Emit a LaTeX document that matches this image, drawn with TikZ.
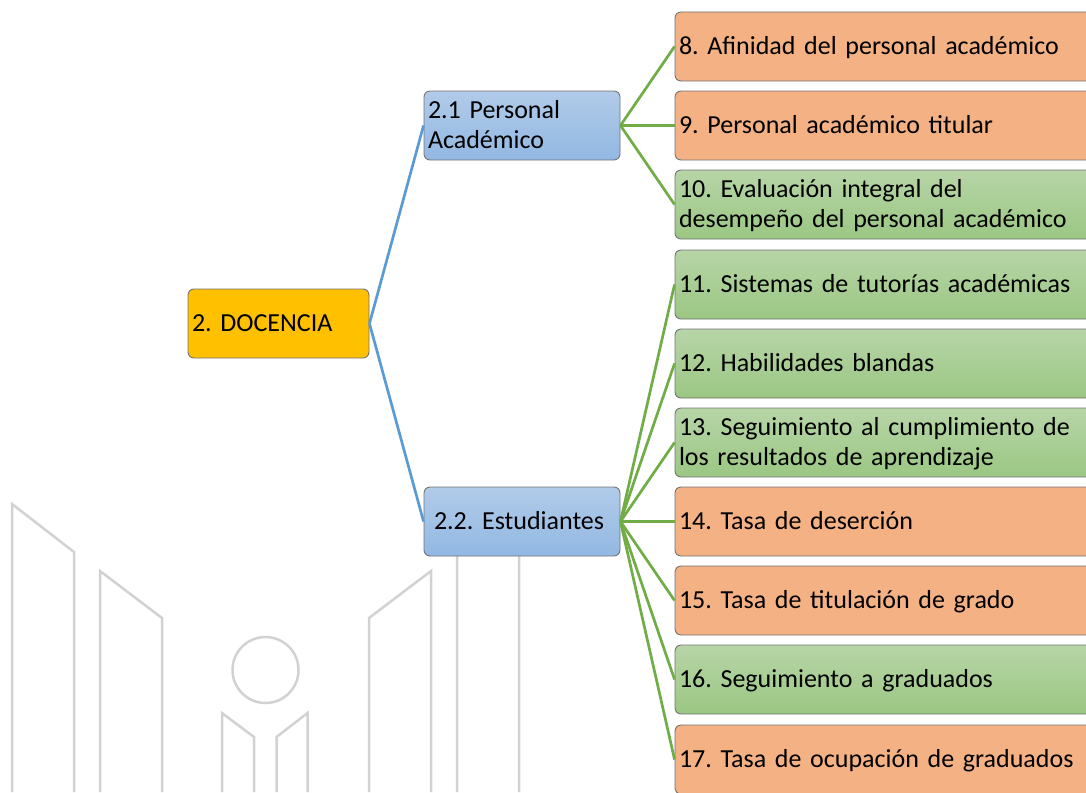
\documentclass[tikz,border=0pt]{standalone}
\usepackage{fontspec}
\setmainfont{Carlito}
\newcommand{\boxstrut}{\rule[-7pt]{0pt}{29.5pt}}
\begin{document}
\begin{tikzpicture}{
    \def\dx{1pt}
    \def\dy{-1pt}
    \newcounter{i-b}
    \useasboundingbox (0*\dx,0*\dy) rectangle (1086*\dx,792*\dy);
    \definecolor{rootyellow}{HTML}{FFC000}
    \definecolor{bluetop}{HTML}{B1CBE9}
    \definecolor{bluebottom}{HTML}{92B8E2}
    \definecolor{leaforange}{HTML}{F4B183}
    \definecolor{greentop}{HTML}{B7D5A7}
    \definecolor{greenbottom}{HTML}{9BC783}
    \definecolor{markgray}{HTML}{D2D2D2}
    \definecolor{lineblue}{HTML}{5B9BD5}
    \definecolor{linegreen}{HTML}{70AD47}
    \tikzstyle{boxbase}=[draw=black!55, line width=0.9pt, rounded corners=6pt, minimum height=69pt, inner xsep=4pt, inner ysep=0pt, font=\fontsize{26}{29.5}\selectfont\frenchspacing, text=black, execute at begin node=\boxstrut, execute at end node=\boxstrut]
    \tikzstyle{rootbox}=[boxbase, fill=rootyellow, minimum width=181pt, text width=173pt, align=left]
    \tikzstyle{branchbox}=[boxbase, top color=bluetop, bottom color=bluebottom, minimum width=196pt, text width=188pt, align=left]
    \tikzstyle{leafbox}=[boxbase, minimum width=420pt, text width=412pt, align=left]
    \tikzstyle{orangebox}=[leafbox, fill=leaforange]
    \tikzstyle{greenbox}=[leafbox, top color=greentop, bottom color=greenbottom]

    % watermark
    \tikzstyle{markline}=[draw=markgray, line width=2.5pt]
    \draw [markline] (12*\dx,792*\dy) -- (12*\dx,504*\dy) -- (74*\dx,552*\dy) -- (74*\dx,792*\dy);
    \draw [markline] (100*\dx,792*\dy) -- (100*\dx,571*\dy) -- (162*\dx,618*\dy) -- (162*\dx,792*\dy);
    \draw [markline] (222*\dx,792*\dy) -- (222*\dx,713*\dy) -- (254*\dx,737*\dy) -- (254*\dx,792*\dy);
    \draw [markline] (276.5*\dx,792*\dy) -- (276.5*\dx,737*\dy) -- (307.5*\dx,713*\dy) -- (307.5*\dx,792*\dy);
    \draw [markline] (369*\dx,792*\dy) -- (369*\dx,618*\dy) -- (431*\dx,571*\dy) -- (431*\dx,792*\dy);
    \draw [markline] (457*\dx,792*\dy) -- (457*\dx,552*\dy) -- (519*\dx,504*\dy) -- (519*\dx,792*\dy);
    \draw [markline] (265.5*\dx,670*\dy) circle (33pt);

    \stepcounter{i-b}\node[rootbox]  (\arabic{i-b}) at (278.5*\dx,323.5*\dy) {2. DOCENCIA};
    \stepcounter{i-b}\node[branchbox]  (\arabic{i-b}) at (522*\dx,125.5*\dy) {2.1 Personal\\Académico};
    \stepcounter{i-b}\node[branchbox]  (\arabic{i-b}) at (522*\dx,521.5*\dy) {\hspace*{6pt}2.2. Estudiantes};
    \stepcounter{i-b}\node[orangebox]  (\arabic{i-b}) at (885*\dx,46.5*\dy) {8. Afinidad del personal académico};
    \stepcounter{i-b}\node[orangebox]  (\arabic{i-b}) at (885*\dx,125.5*\dy) {9. Personal académico titular};
    \stepcounter{i-b}\node[greenbox]  (\arabic{i-b}) at (885*\dx,204.5*\dy) {10. Evaluación integral del\\desempeño del personal académico};
    \stepcounter{i-b}\node[greenbox]  (\arabic{i-b}) at (885*\dx,284.5*\dy) {11. Sistemas de tutorías académicas};
    \stepcounter{i-b}\node[greenbox]  (\arabic{i-b}) at (885*\dx,363.5*\dy) {12. Habilidades blandas};
    \stepcounter{i-b}\node[greenbox]  (\arabic{i-b}) at (885*\dx,442.5*\dy) {13. Seguimiento al cumplimiento de\\los resultados de aprendizaje};
    \stepcounter{i-b}\node[orangebox]  (\arabic{i-b}) at (885*\dx,521.5*\dy) {14. Tasa de deserción};
    \stepcounter{i-b}\node[orangebox]  (\arabic{i-b}) at (885*\dx,600.5*\dy) {15. Tasa de titulación de grado};
    \stepcounter{i-b}\node[greenbox]  (\arabic{i-b}) at (885*\dx,679.5*\dy) {16. Seguimiento a graduados};
    \stepcounter{i-b}\node[orangebox]  (\arabic{i-b}) at (885*\dx,759.5*\dy) {17. Tasa de ocupación de graduados};

    \tikzstyle{trunk} = [draw=lineblue, line width=2.7pt]
    \tikzstyle{twig} = [draw=linegreen, line width=2.7pt]

          \draw [trunk] (1.east) -- (2.west);
          \draw [trunk] (1.east) -- (3.west);

          \draw [twig] (2.east) -- (4.west);
          \draw [twig] (2.east) -- (5.west);
          \draw [twig] (2.east) -- (6.west);

          \draw [twig] (3.east) -- (7.west);
          \draw [twig] (3.east) -- (8.west);
          \draw [twig] (3.east) -- (9.west);
          \draw [twig] (3.east) -- (10.west);
          \draw [twig] (3.east) -- (11.west);
          \draw [twig] (3.east) -- (12.west);
          \draw [twig] (3.east) -- (13.west);}
  \end{tikzpicture}
\end{document}
